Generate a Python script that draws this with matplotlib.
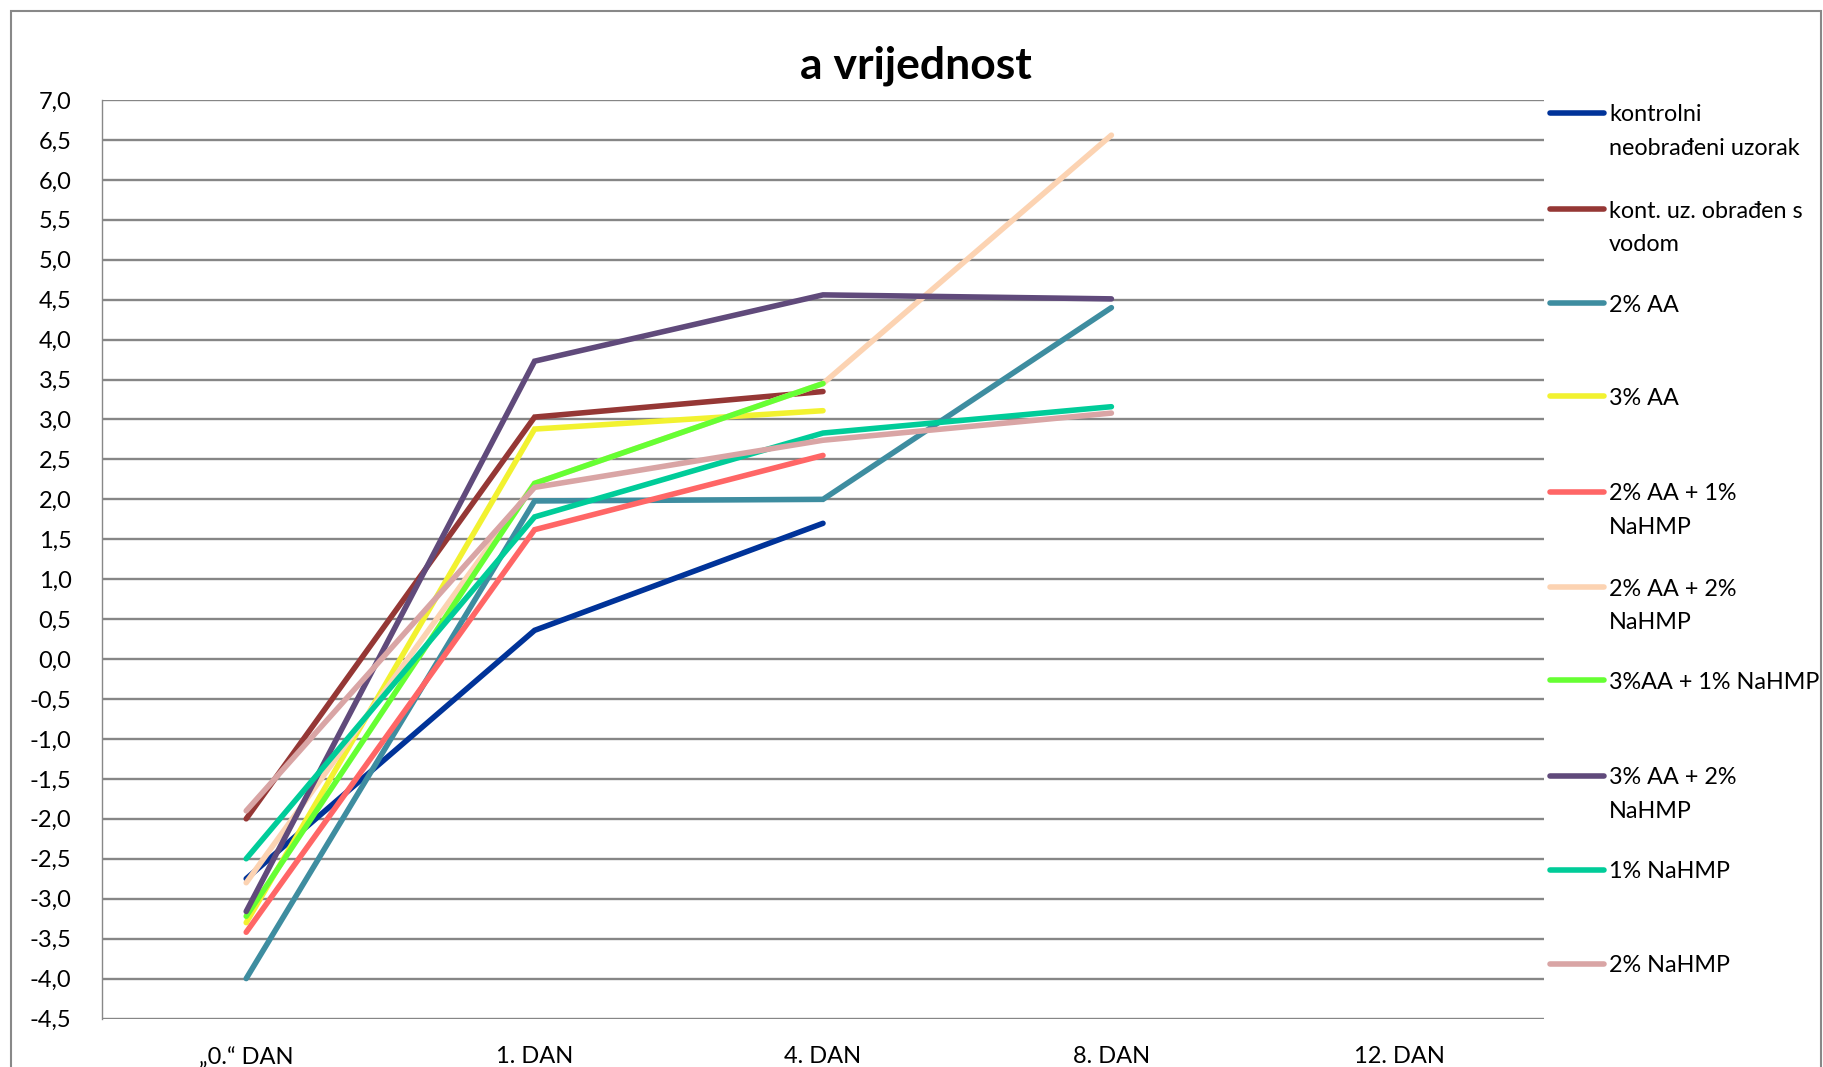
import numpy as np
import matplotlib
matplotlib.use("Agg")
import matplotlib.pyplot as plt
from matplotlib.lines import Line2D
from matplotlib.patches import Rectangle
from matplotlib.ticker import FuncFormatter

plt.rcParams['font.family'] = ['Lato', 'DejaVu Sans']

# podaci
dani = ['„0.“ DAN', '1. DAN', '4. DAN', '8. DAN', '12. DAN']
nan = np.nan

kontrolni = [-2.75, 0.36, 1.70, nan, nan]
kont_voda = [-2.0, 3.03, 3.35, nan, nan]
aa2 = [-4.0, 1.98, 2.0, 4.4, nan]
aa3 = [-3.3, 2.88, 3.11, nan, nan]
aa2_na1 = [-3.42, 1.62, 2.55, nan, nan]
aa2_na2 = [-2.8, 2.2, 3.45, 6.56, nan]
aa3_na1 = [-3.22, 2.2, 3.45, nan, nan]
aa3_na2 = [-3.16, 3.73, 4.56, 4.51, nan]
na1 = [-2.5, 1.78, 2.83, 3.16, nan]
na2 = [-1.9, 2.15, 2.74, 3.08, nan]

nazivi = ['kontrolni\nneobrađeni uzorak', 'kont. uz. obrađen s\nvodom', '2% AA', '3% AA',
          '2% AA + 1%\nNaHMP', '2% AA + 2%\nNaHMP', '3%AA + 1% NaHMP',
          '3% AA + 2%\nNaHMP', '1% NaHMP', '2% NaHMP']
serije = [kontrolni, kont_voda, aa2, aa3, aa2_na1, aa2_na2, aa3_na1, aa3_na2, na1, na2]
boje = ['#003399', '#953735', '#3E8DA0', '#F2F230', '#FF6666',
        '#FCD3B2', '#66FF33', '#604A7B', '#00CC99', '#D9A5A5']

W, H = 1823, 1067
fig = plt.figure(figsize=(W / 100, H / 100), dpi=100)
ax = fig.add_axes([102 / W, 1 - 1018.5 / H, 1442 / W, 918.5 / H])

x = np.arange(len(dani))
for y, c in zip(serije, boje):
    ax.plot(x, y, color=c, lw=4.0, solid_capstyle='round', solid_joinstyle='miter', zorder=3)

ax.set_xlim(-0.5, 4.5)
ax.set_ylim(-4.5, 7.0)
ax.set_yticks(np.arange(-4.5, 7.01, 0.5))
ax.yaxis.set_major_formatter(FuncFormatter(lambda v, p: f"{v:.1f}".replace('.', ',')))
ax.set_xticks(x)
ax.set_xticklabels(dani)
ax.tick_params(axis='both', length=0, labelsize=17, colors='#000000')
ax.tick_params(axis='y', pad=22)
ax.tick_params(axis='x', pad=20)
ax.grid(axis='y', color='#868686', lw=1.7, zorder=1)
for s in ['top', 'right', 'bottom']:
    ax.spines[s].set_visible(False)
ax.spines['left'].set_color('#888888')
ax.spines['left'].set_linewidth(1.0)

# naslov
fig.text(916 / W, 1 - 66 / H, 'a vrijednost', ha='center', va='center',
         fontsize=32, fontweight='bold')

# legenda (svaki red teksta posebno, prvi red poravnat s linijom)
leg_y = [112.8, 209.3, 303.4, 396.4, 491.8, 587.1, 680.1, 775.5, 869.6, 963.8]
for ly, lab, c in zip(leg_y, nazivi, boje):
    fig.add_artist(Line2D([1550 / W, 1604 / W], [1 - ly / H, 1 - ly / H], color=c, lw=4.0,
                          solid_capstyle='round', transform=fig.transFigure))
    for i, red in enumerate(lab.split('\n')):
        fig.text(1609 / W, 1 - (ly + i * 33.5) / H, red, ha='left', va='center_baseline',
                 fontsize=16.8)

# okvir grafikona
fig.add_artist(Rectangle((11 / W, -0.02), (1821 - 11) / W, 1.02 - 11 / H, fill=False,
                         edgecolor='#888888', lw=1.5, transform=fig.transFigure))

fig.savefig('out.png', dpi=100)
